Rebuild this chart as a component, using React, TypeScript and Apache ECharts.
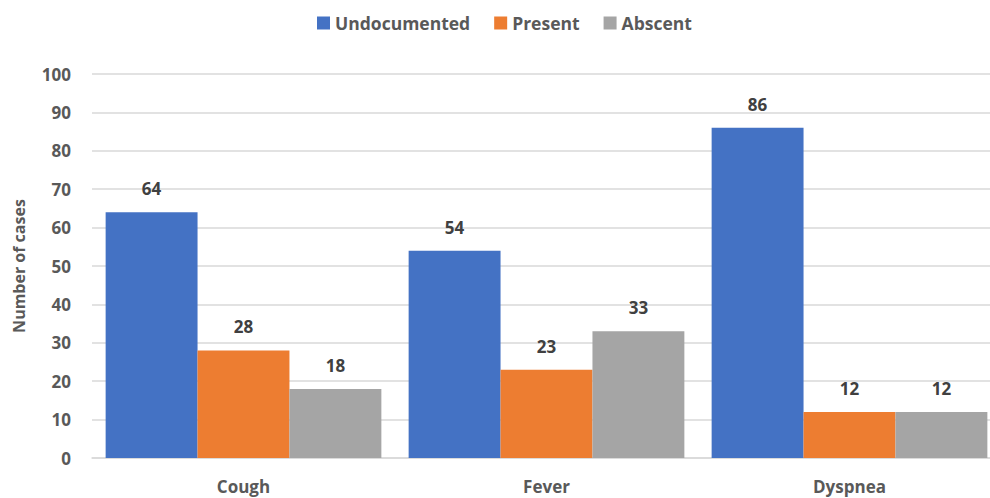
import React, { useEffect, useRef } from "react";
import * as echarts from "echarts";

const categories = ["Cough", "Fever", "Dyspnea"];
const undocumented = [64, 54, 86];
const present = [28, 23, 12];
const absent = [18, 33, 12];
const seriesNames = ["Undocumented", "Present", "Abscent"];
const colors = ["#4472C4", "#ED7D31", "#A5A5A5"];

const FONT = "'Open Sans', Lato, sans-serif";

export default function App() {
  const ref = useRef<HTMLDivElement>(null);

  useEffect(() => {
    if (!ref.current) return;
    const chart = echarts.init(ref.current, null, { renderer: "svg" });
    const values = [undocumented, present, absent];
    chart.setOption({
      animation: false,
      backgroundColor: "#ffffff",
      textStyle: { fontFamily: FONT },
      legend: {
        left: 312,
        top: 9,
        itemWidth: 13,
        itemHeight: 13,
        itemGap: 24,
        icon: "rect",
        textStyle: { fontFamily: FONT, fontSize: 17.5, fontWeight: "bold", color: "#595959" },
        data: seriesNames,
      },
      // the plot runs slightly past the visible frame on the right
      grid: { left: 92, top: 74, right: 0, bottom: 40, containLabel: false },
      xAxis: {
        type: "category",
        data: categories,
        axisLine: { lineStyle: { color: "#d9d9d9", width: 1.5 } },
        axisTick: { show: false },
        axisLabel: { margin: 20, fontFamily: FONT, fontSize: 17, fontWeight: "bold", color: "#595959" },
      },
      yAxis: {
        type: "value",
        min: 0,
        max: 100,
        interval: 10,
        name: "Number of cases",
        nameLocation: "middle",
        nameGap: 65,
        nameTextStyle: { fontFamily: FONT, fontSize: 16, fontWeight: "bold", color: "#595959" },
        axisLine: { show: false },
        axisTick: { show: false },
        axisLabel: { margin: 21, fontFamily: FONT, fontSize: 17, fontWeight: "bold", color: "#595959" },
        splitLine: { lineStyle: { color: "#d9d9d9", width: 1.5 } },
      },
      series: seriesNames.map((name, i) => ({
        name,
        type: "bar",
        data: values[i],
        barGap: "0%",
        barCategoryGap: "9%",
        itemStyle: { color: colors[i] },
        label: {
          show: true,
          position: "top",
          distance: 15,
          fontFamily: FONT,
          fontSize: 17,
          fontWeight: "bold",
          color: "#404040",
        },
      })),
    });
    return () => chart.dispose();
  }, []);

  return (
    <div
      style={{ position: "fixed", left: 0, top: 0, width: 990, height: 498, overflow: "hidden", background: "#fff" }}
    >
      <div ref={ref} style={{ width: 1001, height: 498 }} />
    </div>
  );
}
